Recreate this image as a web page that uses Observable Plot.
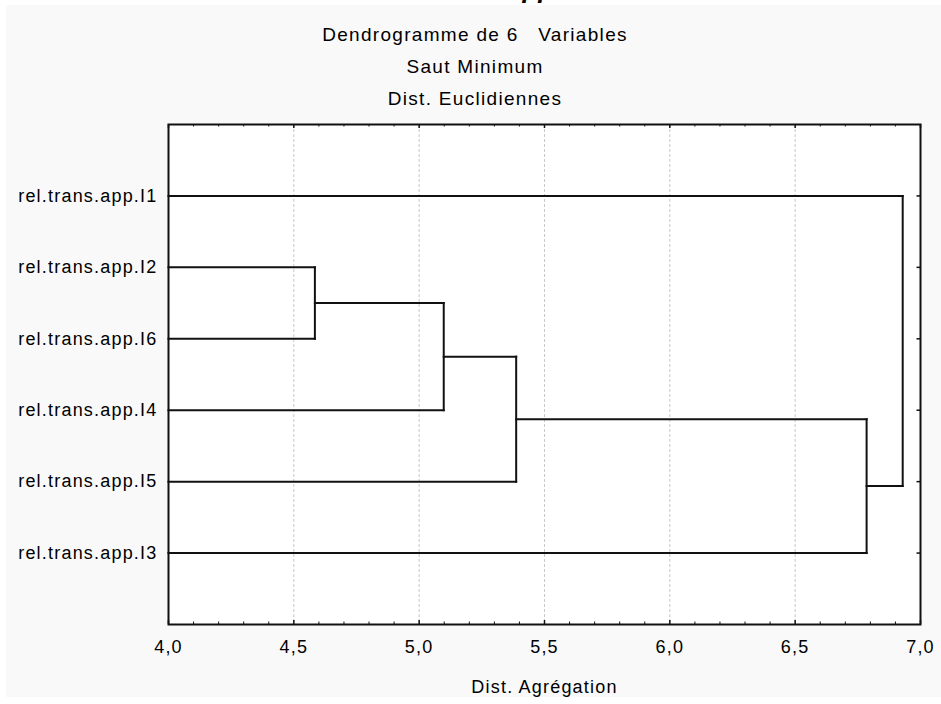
<!DOCTYPE html>
<html>
<head>
<meta charset="utf-8">
<script src="https://cdn.jsdelivr.net/npm/d3@7"></script>
<script src="https://cdn.jsdelivr.net/npm/@observablehq/plot@0.6"></script>
<style>
  html, body { margin: 0; padding: 0; background: #ffffff; }
  #wrap { position: relative; width: 941px; height: 704px; overflow: hidden; font-family: "Liberation Sans", Arial, sans-serif; }
  #panel { position: absolute; left: 6px; top: 5px; width: 935px; height: 692px; background: #f9f9f9; }
  .title { position: absolute; left: 6px; width: 938px; text-align: center; font-size: 19px; color: #000; letter-spacing: 1.3px; white-space: pre; line-height: 19px; }
  #cut { position: absolute; left: 508px; top: -24px; font-size: 26px; font-style: italic; font-weight: bold; color: #000; line-height: 26px; }
  #chart { position: absolute; left: 0; top: 110px; }
</style>
</head>
<body>
<div id="wrap">
  <div id="panel"></div>
  <div id="cut">app</div>
  <div class="title" id="t1" style="top:25px">Dendrogramme de 6   Variables</div>
  <div class="title" id="t2" style="top:57px">Saut Minimum</div>
  <div class="title" id="t3" style="top:89px">Dist. Euclidiennes</div>
  <div id="chart"></div>
</div>
<script>
// ---- data ----
const leaves = ["rel.trans.app.I1", "rel.trans.app.I2", "rel.trans.app.I6", "rel.trans.app.I4", "rel.trans.app.I5", "rel.trans.app.I3"];
// merge steps (cluster ids: 0-5 leaves in display order, 6+ created clusters)
const mergeA = [1, 6, 7, 8, 0];
const mergeB = [2, 3, 4, 5, 9];
const mergeDist = [4.584, 5.098, 5.387, 6.785, 6.929];
const xTicks = [4.0, 4.5, 5.0, 5.5, 6.0, 6.5, 7.0];
const xMinorTicks = d3.range(41, 70).map(v => v / 10).filter(v => Math.abs(v * 2 - Math.round(v * 2)) > 1e-9);
const xLabel = "Dist. Agrégation";
const xMin = 4.0, xMax = 7.0;

// ---- build dendrogram segments from the merges ----
const nodeX = leaves.map(() => xMin);
const nodeY = leaves.map((_, i) => i + 1);
const segs = [];
mergeDist.forEach((d, k) => {
  const a = mergeA[k], b = mergeB[k];
  segs.push({x1: nodeX[a], y1: nodeY[a], x2: d, y2: nodeY[a]});
  segs.push({x1: nodeX[b], y1: nodeY[b], x2: d, y2: nodeY[b]});
  segs.push({x1: d, y1: nodeY[a], x2: d, y2: nodeY[b]});
  nodeX.push(d);
  nodeY.push((nodeY[a] + nodeY[b]) / 2);
});
const rows = leaves.map((_, i) => i + 1);

const W = 941, H = 594;
const mT = 14, mB = 80, mL = 168, mR = 21;
const plotH = H - mT - mB, plotW = W - mL - mR;
const fmt = v => v.toFixed(1).replace(".", ",");
const grid = xTicks.filter(v => v > xMin && v < xMax);

const chart = Plot.plot({
  width: W,
  height: H,
  marginTop: mT, marginBottom: mB, marginLeft: mL, marginRight: mR,
  style: {background: "transparent", fontFamily: "'Liberation Sans', Arial, sans-serif", fontSize: "18px", color: "#000", letterSpacing: "1.2px"},
  x: {domain: [xMin, xMax]},
  y: {domain: [0, leaves.length + 1], reverse: true},
  marks: [
    Plot.frame({fill: "#ffffff", stroke: "none"}),
    Plot.ruleX(grid, {stroke: "#c8c8c8", strokeWidth: 1, strokeDasharray: "3,2"}),
    Plot.link(segs, {x1: "x1", y1: "y1", x2: "x2", y2: "y2", stroke: "#111", strokeWidth: 2, strokeLinecap: "square"}),
    // inward ticks: bottom / top major & minor
    Plot.ruleX(xTicks, {stroke: "#111", strokeWidth: 1.5, insetTop: plotH - 4}),
    Plot.ruleX(xMinorTicks, {stroke: "#111", strokeWidth: 1, insetTop: plotH - 2.5}),
    Plot.ruleX(xTicks, {stroke: "#111", strokeWidth: 1.5, insetBottom: plotH - 4}),
    Plot.ruleX(xMinorTicks, {stroke: "#111", strokeWidth: 1, insetBottom: plotH - 2.5}),
    // inward ticks right side
    Plot.ruleY(rows, {stroke: "#111", strokeWidth: 1.5, insetLeft: plotW - 3.5}),
    Plot.axisX(xTicks, {tickSize: 0, tickPadding: 16, tickFormat: fmt, label: null, fontSize: 18}),
    Plot.text([xLabel], {frameAnchor: "bottom", dy: 68, fontSize: 18, lineAnchor: "bottom", style: {letterSpacing: "1.5px"}}),
    Plot.axisY(rows, {tickSize: 0, tickPadding: 11, tickFormat: i => leaves[i - 1], label: null, fontSize: 18}),
    Plot.frame({stroke: "#111", strokeWidth: 2})
  ]
});
document.getElementById("chart").appendChild(chart);
</script>
</body>
</html>
